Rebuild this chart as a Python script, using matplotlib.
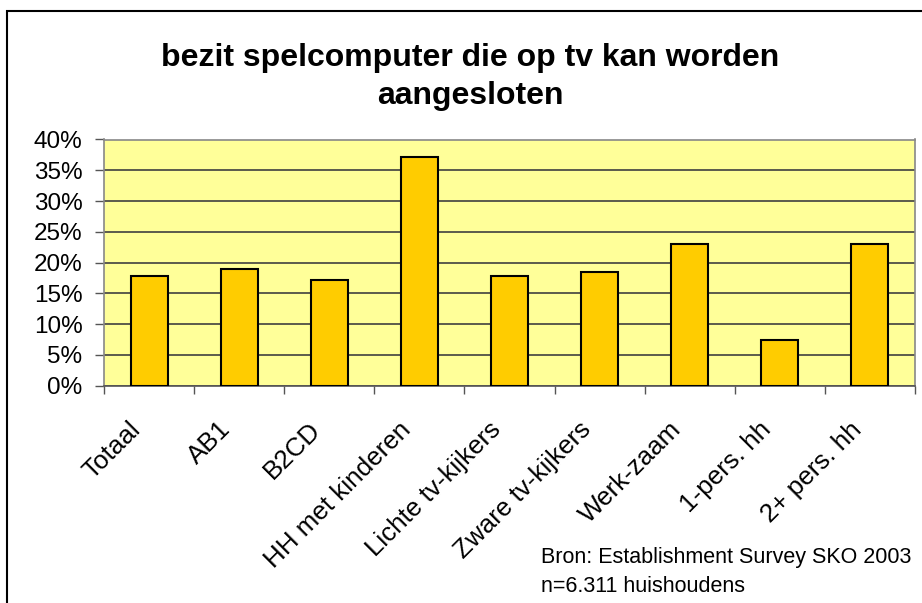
import matplotlib.pyplot as plt
from matplotlib.patches import Rectangle
from matplotlib.transforms import ScaledTranslation
import numpy as np

plt.rcParams['font.family'] = ['Liberation Sans', 'DejaVu Sans']

# Categories and values (share of households, %)
categories = ["Totaal", "AB1", "B2CD", "HH met kinderen", "Lichte tv-kijkers",
              "Zware tv-kijkers", "Werk-zaam", "1-pers. hh", "2+ pers. hh"]
values = [17.9, 18.9, 17.2, 37.1, 17.9, 18.5, 23.1, 7.5, 23.1]
yticks = [0, 5, 10, 15, 20, 25, 30, 35, 40]

title = "bezit spelcomputer die op tv kan worden\naangesloten"
source = "Bron: Establishment Survey SKO 2003\nn=6.311 huishoudens"

W, H = 922, 603
fig = plt.figure(figsize=(W / 100, H / 100), dpi=100)
fig.patch.set_facecolor("white")

# outer chart frame (cut off at right and bottom like the original)
fig.patches.append(Rectangle((7 / W, -0.05), 1.1, 1.05 - 11 / H,
                             transform=fig.transFigure, fill=False,
                             edgecolor="black", linewidth=1.5, zorder=0))

left, right, top, bottom = 104, 915, 139.5, 385.7
ax = fig.add_axes([left / W, 1 - bottom / H, (right - left) / W, (bottom - top) / H])
ax.set_facecolor("#FFFF99")

x = np.arange(len(categories))
ax.bar(x, values, width=0.41, color="#FFCC00", edgecolor="black", linewidth=1.5, zorder=3)

ax.set_xlim(-0.5, len(categories) - 0.5)
ax.set_ylim(0, 40)
ax.set_yticks(yticks)
ax.set_yticklabels([f"{v}%" for v in yticks], fontsize=17.5)
ax.yaxis.grid(True, color="#404040", linewidth=1.2, zorder=1)
ax.set_axisbelow(True)

# x ticks between categories (Excel style), category labels drawn as text
ax.set_xticks(np.arange(-0.5, len(categories), 1))
ax.set_xticklabels([])
ax.tick_params(axis="x", which="major", length=5.5, width=1, color="#555555", direction="out")
ax.tick_params(axis="y", length=6.5, width=1, color="#555555", direction="out", pad=9)

lbl_trans = ax.get_xaxis_transform() + ScaledTranslation(-0.12, -0.40, fig.dpi_scale_trans)
for xi, cat in zip(x, categories):
    ax.text(xi, 0, cat, transform=lbl_trans, fontsize=18.7, rotation=45,
            ha="right", va="center", rotation_mode="anchor", clip_on=False)

for s in ["left", "top", "right"]:
    ax.spines[s].set_color("#888888")
    ax.spines[s].set_linewidth(1.2)
ax.spines["bottom"].set_color("#555555")
ax.spines["bottom"].set_linewidth(1.2)

fig.text(470 / W, 1 - 77 / H, title, ha="center", va="center", fontsize=23,
         fontweight="bold", linespacing=1.39)
fig.text(541 / W, 1 - 572 / H, source, ha="left", va="center", fontsize=15.5,
         linespacing=1.45)

fig.savefig("out.png", dpi=100)
